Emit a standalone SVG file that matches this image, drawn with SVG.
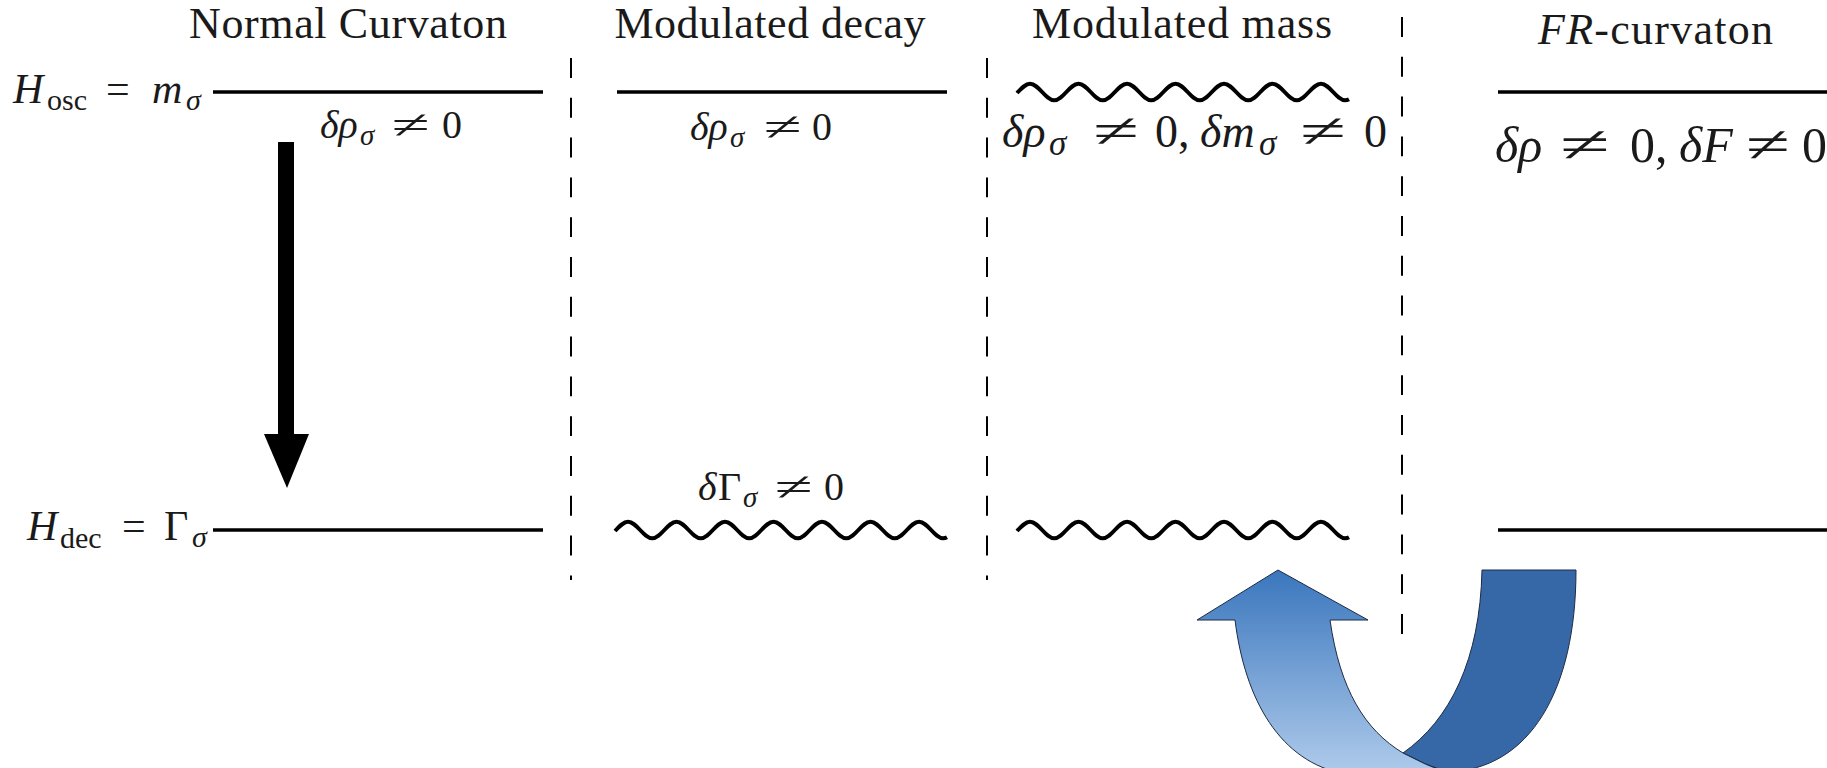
<svg xmlns="http://www.w3.org/2000/svg" width="1827" height="768" viewBox="0 0 1827 768">
<style>
.t{font-family:"Liberation Serif","Times New Roman",serif;fill:#1a1a1a}
.i{font-style:italic}
.ti{font-size:44px}
.lvl{stroke:#000;stroke-width:3.5;fill:none}
.wv{stroke:#000;stroke-width:4;fill:none}
.sep{stroke:#000;stroke-width:2;stroke-dasharray:19.9 19.9;fill:none}
.blue{stroke:#1d2b45;stroke-width:1}
</style>
<defs>
<path id="wave" class="wv" d="M0,1 C4.3,-3.6 8.7,-8.3 13,-8.3 c8.83,0 15.42,16.6 24.25,16.6 c8.83,0 15.42,-16.6 24.25,-16.6 c8.83,0 15.42,16.6 24.25,16.6 c8.83,0 15.42,-16.6 24.25,-16.6 c8.83,0 15.42,16.6 24.25,16.6 c8.83,0 15.42,-16.6 24.25,-16.6 c8.83,0 15.42,16.6 24.25,16.6 c8.83,0 15.42,-16.6 24.25,-16.6 c8.83,0 15.42,16.6 24.25,16.6 c8.83,0 15.42,-16.6 24.25,-16.6 c8.83,0 15.42,16.6 24.25,16.6 c8.83,0 15.42,-16.6 24.25,-16.6 c8.83,0 15.42,16.6 24.25,16.6 c1.5,0 2.5,-0.3 3.75,-1"/>
<linearGradient id="lightBlue" x1="0" y1="0" x2="0" y2="1">
<stop offset="0" stop-color="#3a76bd"/>
<stop offset="1" stop-color="#afcbeb"/>
</linearGradient>
</defs>

<g id="separators">
<line class="sep" x1="571" y1="58" x2="571" y2="580"/>
<line class="sep" x1="987" y1="58" x2="987" y2="580"/>
<line class="sep" x1="1402" y1="17" x2="1402" y2="635"/>
</g>

<g id="normal-curvaton">
<text class="t ti" x="348" y="38" text-anchor="middle" textLength="318" lengthAdjust="spacing">Normal Curvaton</text>
<line class="lvl" x1="213" y1="92" x2="543" y2="92"/>
<line class="lvl" x1="213" y1="530" x2="543" y2="530"/>
<text class="t" y="103"><tspan class="i" x="13" style="font-size:42px">H</tspan><tspan x="47" y="110" style="font-size:30px">osc</tspan><tspan x="106" y="103" style="font-size:42px">=</tspan><tspan class="i" x="152" style="font-size:42px">m</tspan><tspan class="i" x="186" y="110" style="font-size:30px">σ</tspan></text>
<text class="t" y="540"><tspan class="i" x="27" style="font-size:42px">H</tspan><tspan x="60" y="548" style="font-size:30px">dec</tspan><tspan x="122" y="540" style="font-size:42px">=</tspan><tspan x="164" style="font-size:42px">Γ</tspan><tspan class="i" x="192" y="547" style="font-size:30px">σ</tspan></text>
<text class="t" y="138"><tspan class="i" x="320" style="font-size:40px">δρ</tspan><tspan class="i" x="360" y="145" style="font-size:29px">σ</tspan><tspan x="442" y="138" style="font-size:40px">0</tspan></text>
<text class="t" x="392" y="138" style="font-size:40px" textLength="38" lengthAdjust="spacingAndGlyphs">≠</text>
</g>

<g id="modulated-decay">
<text class="t ti" x="770" y="38" text-anchor="middle" textLength="311" lengthAdjust="spacing">Modulated decay</text>
<line class="lvl" x1="617" y1="92" x2="947" y2="92"/>
<use href="#wave" x="615" y="530"/>
<text class="t" y="140"><tspan class="i" x="690" style="font-size:40px">δρ</tspan><tspan class="i" x="730" y="147" style="font-size:29px">σ</tspan><tspan x="812" y="140" style="font-size:40px">0</tspan></text>
<text class="t" x="764" y="140" style="font-size:40px" textLength="38" lengthAdjust="spacingAndGlyphs">≠</text>
<text class="t" y="500"><tspan class="i" x="698" style="font-size:40px">δ</tspan><tspan x="718" style="font-size:40px">Γ</tspan><tspan class="i" x="743" y="507" style="font-size:29px">σ</tspan><tspan x="824" y="500" style="font-size:40px">0</tspan></text>
<text class="t" x="775" y="500" style="font-size:40px" textLength="38" lengthAdjust="spacingAndGlyphs">≠</text>
</g>

<g id="modulated-mass">
<text class="t ti" x="1182" y="38" text-anchor="middle" textLength="300" lengthAdjust="spacing">Modulated mass</text>
<use href="#wave" x="1017" y="92"/>
<use href="#wave" x="1017" y="530"/>
<text class="t" y="147"><tspan class="i" x="1002" style="font-size:46px">δρ</tspan><tspan class="i" x="1049" y="155" style="font-size:35px">σ</tspan><tspan x="1155" y="147" style="font-size:46px">0,</tspan><tspan class="i" x="1200" style="font-size:46px">δm</tspan><tspan class="i" x="1259" y="155" style="font-size:35px">σ</tspan><tspan x="1364" y="147" style="font-size:46px">0</tspan></text>
<text class="t" x="1093" y="147" style="font-size:48px" textLength="46" lengthAdjust="spacingAndGlyphs">≠</text>
<text class="t" x="1300" y="147" style="font-size:48px" textLength="46" lengthAdjust="spacingAndGlyphs">≠</text>
</g>

<g id="fr-curvaton">
<text class="t ti" x="1538" y="44" textLength="235" lengthAdjust="spacing"><tspan class="i">FR</tspan>-curvaton</text>
<line class="lvl" x1="1498" y1="92" x2="1830" y2="92"/>
<line class="lvl" x1="1498" y1="530" x2="1830" y2="530"/>
<text class="t" y="162"><tspan class="i" x="1495" style="font-size:50px">δρ</tspan><tspan x="1630" style="font-size:50px">0,</tspan><tspan class="i" x="1679" style="font-size:50px">δF</tspan><tspan x="1802" style="font-size:50px">0</tspan></text>
<text class="t" x="1560" y="162" style="font-size:52px" textLength="50" lengthAdjust="spacingAndGlyphs">≠</text>
<text class="t" x="1746" y="162" style="font-size:52px" textLength="44" lengthAdjust="spacingAndGlyphs">≠</text>
</g>

<g id="connectors">
<g id="decay-arrow">
<rect x="278" y="142" width="16" height="293" fill="#000"/>
<polygon points="264,434 309,434 287,488" fill="#000"/>
</g>
<g id="uturn-arrow">
<path class="blue" fill="#3668a8" d="M1482,570 L1576,570 C1576,690 1530,770 1447,772 Q1425,765 1403,753 C1450,720 1480,660 1482,570 Z"/>
<path class="blue" fill="url(#lightBlue)" d="M1197,620 L1278,570 L1368,620 L1330,620 C1340,690 1365,730 1403,753 Q1425,765 1450,774 L1345,774 C1280,762 1245,700 1235,620 Z"/>
</g>
</g>
</svg>
